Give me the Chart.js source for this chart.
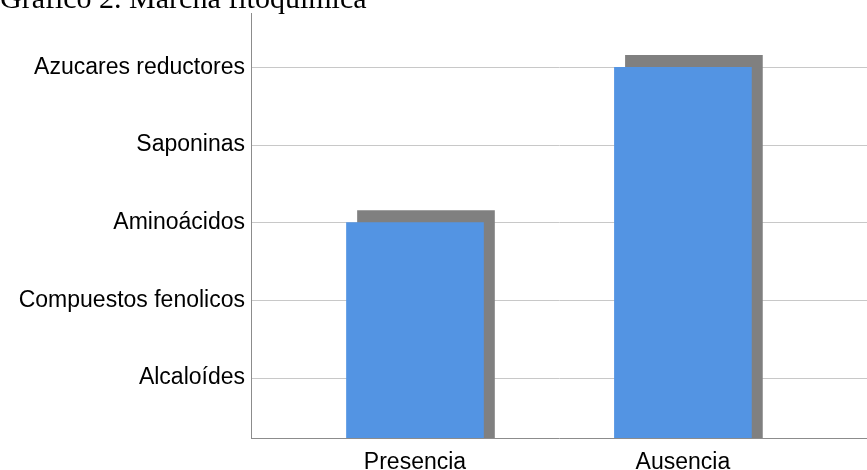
<!DOCTYPE html>
<html>
<head>
<meta charset="utf-8">
<script src="https://cdn.jsdelivr.net/npm/chart.js@4.4.1/dist/chart.umd.min.js"></script>
<style>
  html, body { margin: 0; padding: 0; background: #fff; }
  #wrap { width: 867px; height: 470px; }
</style>
</head>
<body>
<div id="wrap"><canvas id="myChart"></canvas></div>
<script>
// data
const groups = ['Presencia', 'Ausencia'];
const groupPos = [1, 2];
const levels = ['Alcaloídes', 'Compuestos fenolicos', 'Aminoácidos', 'Saponinas', 'Azucares reductores'];
const levelPos = [1, 2, 3, 4, 5];
const barValues = [3, 5];

const titleText = 'Gráfico 2. Marcha fitoquímica';

// gray drop shadow behind the bars, plus the cut-off title
const shadowPlugin = {
    id: 'barShadow',
    beforeDatasetsDraw(chart) {
        const ctx = chart.ctx;
        ctx.save();
        ctx.shadowColor = '#808080';
        ctx.shadowOffsetX = 11;
        ctx.shadowOffsetY = -12;
        ctx.shadowBlur = 0;
    },
    afterDatasetsDraw(chart) {
        chart.ctx.restore();
    },
    afterDraw(chart) {
        const ctx = chart.ctx;
        ctx.save();
        ctx.font = '30px "Liberation Serif", "Times New Roman", serif';
        ctx.fillStyle = '#000';
        ctx.textBaseline = 'alphabetic';
        ctx.fillText(titleText, 0, 7.5);
        ctx.restore();
    }
};

const ctx = document.getElementById('myChart');
new Chart(ctx, {
    type: 'bar',
    data: {
        datasets: [{
            data: groupPos.map((x, i) => ({ x: x, y: barValues[i] })),
            backgroundColor: '#5394e3',
            borderWidth: 0,
            barThickness: 137
        }]
    },
    options: {
        responsive: true,
        maintainAspectRatio: false,
        animation: false,
        layout: { padding: { top: 13, left: 0, right: 0, bottom: 0 } },
        plugins: {
            legend: { display: false },
            tooltip: { enabled: false }
        },
        scales: {
            x: {
                type: 'linear',
                offset: false,
                min: 0.388,
                max: 2.687,
                afterBuildTicks: axis => { axis.ticks = groupPos.map(v => ({ value: v })); },
                afterFit: axis => {
                    axis.height = 32;
                    axis.paddingLeft = 0;
                    axis.paddingRight = 0;
                },
                ticks: {
                    callback: v => groups[groupPos.indexOf(v)] || '',
                    color: '#000',
                    font: { family: 'Liberation Sans, Arial, sans-serif', size: 23 },
                    padding: 3,
                    maxRotation: 0,
                    autoSkip: false
                },
                grid: { display: false, offset: false },
                border: { display: true, color: '#8c8c8c', width: 1 }
            },
            y: {
                type: 'linear',
                min: 0.228,
                max: 5.70,
                afterBuildTicks: axis => { axis.ticks = levelPos.map(v => ({ value: v })); },
                afterFit: axis => {
                    axis.width = 251;
                    axis.paddingTop = 0;
                    axis.paddingBottom = 0;
                },
                ticks: {
                    callback: v => levels[levelPos.indexOf(v)] || '',
                    color: '#000',
                    font: { family: 'Liberation Sans, Arial, sans-serif', size: 23 },
                    padding: 6,
                    autoSkip: false
                },
                grid: { color: '#c8c8c8', lineWidth: 1, drawTicks: false },
                border: { display: true, color: '#8c8c8c', width: 1 }
            }
        }
    },
    plugins: [shadowPlugin]
});
</script>
</body>
</html>
